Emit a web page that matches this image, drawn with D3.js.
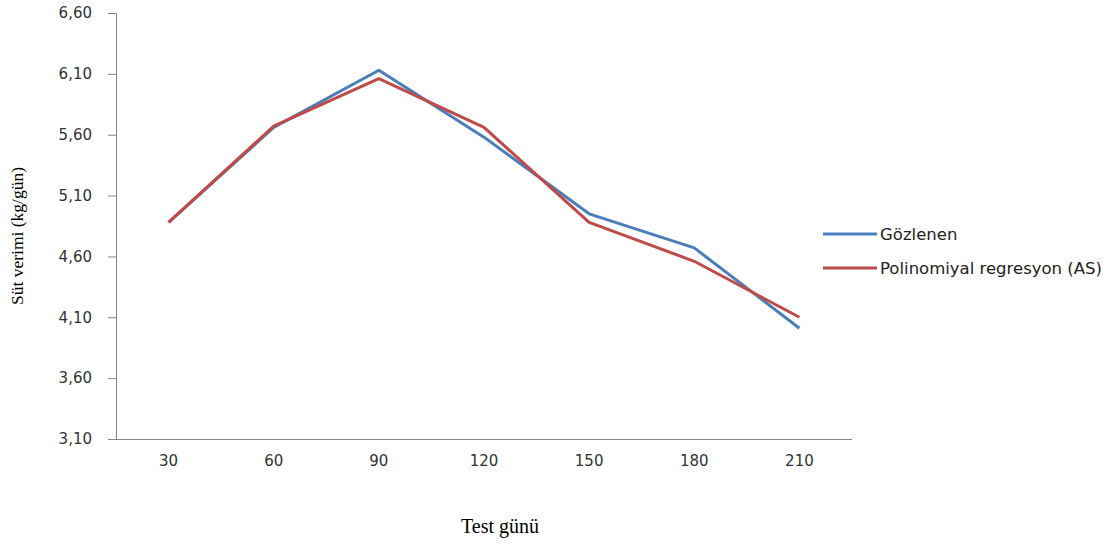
<!DOCTYPE html>
<html>
<head>
<meta charset="utf-8">
<script src="https://cdn.jsdelivr.net/npm/d3@7"></script>
<style>
  html, body { margin: 0; padding: 0; background: #fff; }
  svg { display: block; }
</style>
</head>
<body>
<svg id="chart" width="1116" height="545"></svg>
<script>
const categories = ["30", "60", "90", "120", "150", "180", "210"];
const observed = [4.88, 5.66, 6.13, 5.58, 4.95, 4.67, 4.01];
const regression = [4.88, 5.67, 6.06, 5.66, 4.88, 4.56, 4.10];
const yTicks = [3.1, 3.6, 4.1, 4.6, 5.1, 5.6, 6.1, 6.6];
const seriesNames = ["Gözlenen", "Polinomiyal regresyon (AS)"];
const seriesColors = ["#4a7ebb", "#be4b48"];

(function () {
const svg = d3.select("#chart");
const mLeft = 116, mRight = 852, mTop = 13, mBottom = 439;

const x = d3.scaleBand().domain(categories).range([mLeft, mRight]);
const y = d3.scaleLinear().domain([3.1, 6.6]).range([mBottom, mTop]);

const fmt = v => v.toFixed(2).replace(".", ",");

// Y axis
const yAxis = svg.append("g")
  .attr("transform", `translate(${mLeft},0)`)
  .call(d3.axisLeft(y).tickValues(yTicks).tickFormat(fmt).tickSize(8).tickPadding(16));
yAxis.select(".domain").attr("stroke", "#868686").attr("stroke-width", 1);
yAxis.selectAll(".tick line").attr("stroke", "#868686");
yAxis.selectAll(".tick text")
  .attr("fill", "#333")
  .style("font-family", "'DejaVu Sans', Verdana, sans-serif")
  .style("font-size", "15px");

// X axis
const xAxis = svg.append("g")
  .attr("transform", `translate(0,${mBottom})`)
  .call(d3.axisBottom(x).tickSize(0).tickPadding(16));
xAxis.select(".domain").attr("stroke", "#868686").attr("stroke-width", 1)
  .attr("d", `M${mLeft},0.5H${mRight}`);
xAxis.selectAll(".tick text")
  .attr("fill", "#333")
  .style("font-family", "'DejaVu Sans', Verdana, sans-serif")
  .style("font-size", "15px");

// Lines
const line = d3.line()
  .x((d, i) => x(categories[i]) + x.bandwidth() / 2)
  .y(d => y(d));

[observed, regression].forEach((data, k) => {
  svg.append("path")
    .datum(data)
    .attr("fill", "none")
    .attr("stroke", seriesColors[k])
    .attr("stroke-width", 3)
    .attr("stroke-linejoin", "round")
    .attr("d", line);
});

// Legend
const legend = svg.append("g");
seriesNames.forEach((name, k) => {
  const ly = 234 + k * 34;
  legend.append("line")
    .attr("x1", 823).attr("x2", 877)
    .attr("y1", ly).attr("y2", ly)
    .attr("stroke", seriesColors[k]).attr("stroke-width", 3);
  legend.append("text")
    .attr("x", 880).attr("y", ly + 6)
    .attr("fill", "#222")
    .style("font-family", "'DejaVu Sans', Verdana, sans-serif")
    .style("font-size", "16.5px")
    .text(name);
});

// Axis titles
svg.append("text")
  .attr("transform", "translate(23,236) rotate(-90)")
  .attr("text-anchor", "middle")
  .attr("fill", "#000")
  .style("font-family", "'Liberation Serif', 'Times New Roman', serif")
  .style("font-size", "17.5px")
  .text("Süt verimi  (kg/gün)");

svg.append("text")
  .attr("x", 500).attr("y", 533)
  .attr("text-anchor", "middle")
  .attr("fill", "#000")
  .style("font-family", "'Liberation Serif', 'Times New Roman', serif")
  .style("font-size", "20px")
  .text("Test günü");
})();
</script>
</body>
</html>
